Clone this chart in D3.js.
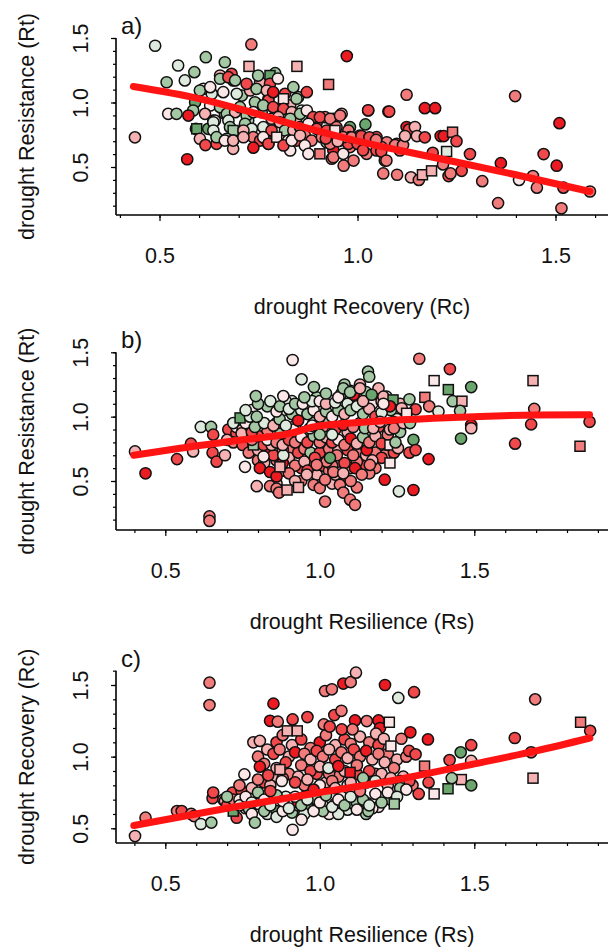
<!DOCTYPE html>
<html><head><meta charset="utf-8">
<script src="https://cdn.jsdelivr.net/npm/d3@7"></script>
<style>body{margin:0;background:#fff;} svg{display:block;font-family:"Liberation Sans",Arial,sans-serif;}</style>
</head><body><svg id="chart" width="608" height="949"></svg>
<script>
// colour classes (red -> white -> green)
const colorKeys = ['R','r','m','p','w','l','g','G'];
const colorValues = ['#ec1b22','#f0484b','#f27b7b','#f6b2b2','#fbe7e7','#dfeadf','#a3c8a3','#6aa56e'];

// panel a: x = Recovery (Rc), y = Resistance (Rt)   [x, y, colour, shape]
const pointsA = [
[0.438,0.73,'p'],[0.489,1.44,'l'],[0.547,1.287,'l'],[0.518,1.157,'g'],[0.564,1.171,'l'],[0.588,1.235,'g'],
[0.617,1.351,'g'],[0.665,1.312,'g'],[0.732,1.45,'m'],[0.726,1.28,'p','s'],[0.847,1.28,'p','s'],[0.927,1.14,'m','s'],
[0.973,1.36,'R'],[0.792,1.227,'g'],[0.779,1.209,'G','s'],
[0.653,1.209,'p'],[0.682,1.222,'r'],[0.686,1.171,'G'],[0.754,1.157,'p'],[0.779,1.145,'r'],[0.799,1.186,'w'],
[0.611,1.106,'w'],[0.632,1.067,'l'],[0.708,1.054,'g'],[0.729,1.093,'p'],[0.745,0.99,'g'],[0.775,1.029,'p'],
[0.817,1.067,'r'],[0.830,0.977,'p'],[0.850,1.041,'g'],[0.809,0.964,'r'],
[0.602,1.093,'g'],[0.628,1.119,'w'],[0.653,1.184,'g'],
[0.674,1.196,'r'],[0.691,1.171,'g'],[0.661,1.080,'w'],[0.695,1.067,'l'],[0.720,1.145,'r'],[0.749,1.209,'g'],
[0.745,1.106,'g'],[0.771,1.093,'p'],[0.775,1.016,'r'],[0.813,1.029,'w','s'],[0.787,1.080,'R'],[0.838,1.119,'g'],
[0.846,1.029,'g'],[0.872,1.080,'r'],[0.590,1.002,'G'],[0.585,0.938,'g'],[0.628,0.977,'w'],[0.615,0.912,'p'],
[0.636,0.860,'w'],[0.665,0.912,'g'],[0.724,0.860,'g'],[0.758,0.925,'g'],[0.783,0.874,'p'],[0.825,0.899,'g'],
[0.846,0.860,'p'],[0.859,0.938,'l'],[0.872,0.860,'g'],[0.884,0.860,'l'],[0.897,0.847,'m'],[0.918,0.886,'m'],
[0.939,0.874,'r'],[0.960,0.912,'p'],[1.027,0.938,'r'],[1.078,0.93,'R'],
[0.653,0.964,'g'],[0.640,0.860,'w'],[0.670,0.912,'g'],[0.691,0.925,'p'],[0.674,0.860,'l'],[0.703,0.964,'g'],
[0.720,0.899,'g'],[0.741,1.002,'g'],[0.737,0.925,'w'],[0.762,0.977,'g'],[0.787,0.964,'r'],[0.813,0.951,'r'],
[0.800,0.886,'p'],[0.834,0.925,'p'],[0.830,0.874,'g'],[0.855,0.912,'g'],[0.872,0.938,'w'],[0.888,0.886,'r'],
[0.905,0.886,'r'],[0.931,0.874,'m'],[0.956,0.899,'m'],[0.981,0.809,'G'],[1.02,0.83,'G'],[0.522,0.912,'w'],
[0.543,0.912,'g'],[0.573,0.899,'R'],[0.592,0.796,'r'],[0.594,0.796,'G','s'],[0.623,0.796,'G'],[0.636,0.847,'l'],
[0.678,0.809,'g'],[0.686,0.783,'g','s'],[0.716,0.835,'g'],[0.733,0.796,'l'],[0.762,0.809,'l'],[0.783,0.783,'r'],
[0.804,0.847,'p'],[0.817,0.783,'g'],[0.838,0.783,'p'],[0.855,0.809,'r'],[0.876,0.835,'w'],[0.897,0.796,'r'],
[0.922,0.783,'r'],[0.947,0.809,'m'],[0.977,0.783,'m'],
[0.636,0.783,'l'],[0.670,0.719,'g'],[0.686,0.705,'w'],[0.712,0.783,'p'],[0.737,0.731,'m'],[0.754,0.705,'r'],
[0.771,0.705,'r'],[0.825,0.705,'w'],[0.846,0.705,'r'],[0.867,0.744,'m'],[0.884,0.705,'m'],[0.910,0.731,'m'],
[0.922,0.692,'g'],[0.943,0.783,'w','s'],[0.956,0.705,'r'],[0.981,0.731,'m'],[1.006,0.744,'r'],[1.027,0.705,'m'],
[1.048,0.731,'r'],[1.074,0.692,'m'],[1.099,0.680,'r'],[0.644,0.680,'r'],[0.686,0.641,'p'],[0.775,0.680,'p'],
[0.830,0.628,'w'],[0.939,0.628,'R'],[0.935,0.564,'m'],[0.981,0.654,'m'],[0.998,0.705,'r'],[1.023,0.602,'m'],
[1.048,0.628,'r'],[1.061,0.654,'m'],[1.069,0.550,'m'],[1.107,0.628,'r'],
[0.602,0.719,'p'],[0.616,0.67,'r'],[0.57,0.56,'R'],
[0.644,0.731,'g'],[0.665,0.705,'w'],[0.686,0.705,'p'],[0.712,0.731,'p'],[0.737,0.65,'R'],[0.762,0.731,'w'],
[0.775,0.680,'r'],[0.796,0.731,'w','s'],[0.813,0.667,'r'],[0.834,0.705,'w'],[0.855,0.744,'p'],[0.867,0.667,'w'],
[0.876,0.602,'w'],[0.905,0.602,'m','s'],[0.931,0.680,'m'],[0.939,0.576,'m'],[0.964,0.602,'w'],[0.977,0.680,'r'],
[0.964,0.731,'m'],[0.965,0.51,'m'],[0.99,0.55,'m'],[0.92,0.72,'r'],[0.95,0.70,'p'],[0.985,0.73,'m'],[1.0,0.68,'r'],
[1.01,0.74,'r'],[1.03,0.73,'r'],[1.047,0.71,'m'],[1.014,0.63,'r'],[1.027,0.94,'r'],[1.08,0.93,'r'],[1.06,0.62,'r'],
[1.065,0.45,'m'],[1.073,0.55,'m'],[1.095,0.67,'m'],[1.115,0.67,'m'],[1.10,0.44,'m'],[1.124,1.06,'m'],[1.124,0.81,'R'],
[1.13,0.79,'r'],[1.145,0.81,'p'],[1.12,0.74,'p'],[1.15,0.74,'p'],[1.135,0.42,'p'],[1.155,0.40,'m'],[1.164,0.44,'p','s'],
[1.187,0.47,'p','s'],[1.17,0.956,'R'],[1.196,0.956,'R'],[1.17,0.73,'r'],[1.19,0.61,'r'],[1.21,0.74,'R'],[1.218,0.74,'R'],
[1.216,0.52,'m'],[1.225,0.62,'l','s'],[1.24,0.77,'m','s'],[1.23,0.43,'r'],[1.235,0.45,'m'],[1.25,0.70,'r'],[1.263,0.47,'r'],
[1.284,0.60,'r'],[1.315,0.39,'m'],[1.355,0.22,'m'],[1.362,0.53,'R'],[1.398,1.05,'m'],[1.408,0.40,'w'],[1.443,0.43,'m'],
[1.453,0.34,'m'],[1.47,0.60,'r'],[1.503,0.51,'R'],[1.51,0.84,'R'],[1.515,0.18,'m'],[1.52,0.34,'r'],[1.587,0.31,'m']
];

// panel b: x = Resilience (Rs), y = Resistance (Rt)
const pointsB = [
[0.402,0.73,'p'],[0.436,0.56,'R'],[0.538,0.67,'r'],[0.583,0.79,'r'],[0.59,0.73,'p'],[0.615,0.92,'l'],[0.648,0.92,'g'],
[0.643,0.225,'m'],[0.643,0.19,'m'],[0.653,0.72,'r'],[0.666,0.65,'r'],[0.655,0.86,'r'],[0.693,0.70,'p'],[0.704,0.90,'r'],
[0.758,0.61,'w'],[0.796,0.46,'p'],[0.73,0.87,'r'],[0.72,0.80,'m'],[0.75,0.78,'r'],[0.70,0.82,'p'],[0.73,0.92,'w'],
[0.80,0.66,'m'],[0.83,0.72,'R'],[0.86,0.66,'m'],[0.88,0.58,'p'],[0.91,0.75,'m'],[0.94,0.60,'r'],[0.97,0.64,'m'],
[0.99,0.55,'p'],[1.01,0.62,'r'],[1.03,0.58,'m'],[1.06,0.65,'m'],[1.08,0.52,'r'],[1.10,0.60,'p'],[1.13,0.68,'m'],
[1.15,0.62,'r'],[1.18,0.60,'m'],[1.21,0.70,'m'],[1.24,0.72,'r'],[0.94,0.50,'m'],[1.04,0.48,'p'],[1.12,0.45,'m'],
[0.86,0.48,'p'],
[0.77,0.72,'m'],[0.80,0.74,'p'],[0.85,0.70,'r'],[0.88,0.74,'m'],[0.90,0.68,'p'],[0.93,0.72,'r'],[0.95,0.75,'m'],
[0.97,0.72,'g'],[1.00,0.72,'r'],[1.03,0.75,'m'],[1.06,0.74,'p'],[1.09,0.74,'r'],[1.12,0.72,'m'],[1.15,0.70,'p'],
[1.18,0.72,'m'],[1.20,0.68,'r'],[0.82,0.64,'p'],[0.88,0.64,'R'],[0.92,0.62,'m'],[0.95,0.65,'p'],[1.04,0.62,'m'],
[1.08,0.64,'r'],[1.12,0.65,'m'],[1.17,0.66,'p'],[0.90,0.56,'m'],[0.96,0.58,'r'],[1.05,0.55,'p'],[1.10,0.50,'m'],
[1.16,0.56,'m'],[0.92,0.50,'p'],[0.98,0.47,'m'],
[0.806,0.60,'R'],[0.839,0.57,'R'],[0.86,0.535,'R'],[0.871,0.61,'p','s'],[0.839,0.46,'m'],[0.86,0.44,'m'],[0.868,0.41,'m'],
[0.894,0.43,'p','s'],[0.931,0.45,'p','s'],[0.958,0.55,'p'],[1.0,0.445,'m'],[1.017,0.51,'m'],[1.017,0.34,'m'],[1.065,0.47,'m'],
[1.076,0.41,'m'],[1.098,0.355,'m'],[1.114,0.315,'m'],[1.044,0.57,'m'],[1.076,0.56,'p'],[1.114,0.60,'R'],[1.136,0.55,'m'],
[1.162,0.625,'m'],[1.21,0.51,'R'],[1.256,0.42,'l'],[1.152,0.74,'R'],[1.108,0.70,'m'],[1.055,0.70,'m'],[1.022,0.65,'m'],
[0.984,0.68,'r'],[0.99,0.625,'m'],[0.882,0.70,'l'],[0.818,0.69,'w'],[0.818,0.78,'r'],[0.844,0.78,'p'],[0.785,0.78,'g','s'],
[0.72,0.95,'l'],[0.75,0.90,'p'],[0.77,0.97,'g'],[0.80,0.90,'w'],[0.83,0.88,'m'],[0.86,0.95,'w'],[0.88,0.90,'r'],
[0.92,0.93,'p'],[0.95,0.88,'m'],[0.98,0.95,'l'],[1.01,0.92,'m'],[1.03,0.96,'g'],[1.05,0.90,'r'],[1.09,0.88,'p'],
[1.13,0.95,'m'],[1.16,0.87,'l'],[1.19,0.92,'r'],[1.22,0.86,'m'],[1.26,0.88,'g'],
[0.78,0.82,'m'],[0.80,0.85,'r'],[0.83,0.82,'w'],[0.86,0.80,'m'],[0.88,0.78,'p'],[0.90,0.82,'r'],[0.92,0.80,'m'],
[0.94,0.84,'w'],[0.96,0.80,'r'],[0.98,0.85,'g'],[1.00,0.80,'m'],[1.02,0.84,'p'],[1.04,0.80,'r'],[1.06,0.82,'w'],
[1.08,0.78,'m'],[1.10,0.83,'R'],[1.12,0.79,'p'],[1.14,0.84,'g'],[1.16,0.80,'m'],[1.18,0.85,'p'],[1.20,0.79,'r'],
[1.033,0.68,'G'],[1.227,0.78,'w','s'],[1.227,0.64,'w','s'],[1.253,0.755,'p'],[1.245,0.80,'g'],
[0.747,0.87,'p'],[0.78,0.88,'r'],[0.871,0.87,'g','s'],[0.914,0.90,'w'],[1.0,0.86,'g'],[1.04,0.86,'l'],
[0.78,1.05,'w'],[0.83,1.08,'g'],[0.88,1.05,'w'],[0.91,1.12,'l'],[0.94,1.02,'g'],[0.97,1.08,'w'],[0.99,1.15,'g'],
[1.03,1.13,'w'],[1.07,1.18,'g'],[1.09,1.10,'l'],[1.12,1.15,'g'],[1.15,1.19,'g'],[1.17,1.10,'w'],[1.20,1.12,'p'],
[1.23,1.05,'g'],[1.26,1.10,'p'],[1.28,1.02,'l'],[1.25,0.98,'w'],[1.13,1.25,'p'],[1.11,1.17,'R'],
[0.76,0.95,'w'],[0.79,0.92,'g'],[0.82,0.95,'l'],[0.85,0.93,'p'],[0.87,0.98,'g'],[0.89,0.93,'l'],[0.91,1.02,'g'],
[0.94,1.05,'l'],[0.96,1.02,'g'],[0.98,1.05,'w'],[1.0,1.0,'p'],[1.02,1.04,'g'],[1.04,1.00,'w'],[1.06,1.05,'g'],
[1.08,1.02,'p'],[1.10,1.05,'g'],[1.12,1.08,'l'],[1.14,1.02,'g'],[1.16,1.06,'p'],[1.18,1.00,'r'],[1.20,1.03,'l'],
[0.968,0.91,'l'],[0.975,0.93,'w'],[1.076,0.935,'R'],[1.108,0.92,'m'],[1.146,0.91,'g'],[1.173,0.91,'p'],[1.195,0.96,'p'],
[1.238,0.96,'l'],[1.227,0.90,'p'],[1.24,0.91,'m'],[1.27,0.95,'p'],[1.292,0.95,'g'],
[0.742,0.99,'G','s'],[0.774,1.0,'l'],[0.796,1.0,'g'],[0.76,1.05,'l'],[0.80,1.10,'g'],[0.84,1.12,'l'],[0.86,1.04,'w'],
[0.89,1.12,'l'],[0.871,1.08,'g'],[0.90,1.06,'l'],[0.93,0.97,'R'],[0.92,1.10,'g'],[0.945,1.10,'w'],[0.975,1.12,'l'],
[1.0,1.12,'w'],[1.02,1.10,'p'],[1.05,1.11,'l'],[0.95,1.15,'g'],[1.02,1.18,'g'],[1.06,1.15,'w'],[1.10,1.20,'l'],
[1.14,1.12,'p'],[1.19,1.22,'p'],[1.08,1.25,'g'],[0.912,1.44,'w'],[0.941,1.29,'l'],[0.981,1.23,'g'],[0.793,1.16,'g'],
[0.882,1.16,'w'],[1.156,1.35,'g'],[1.16,1.31,'g'],[1.076,1.22,'g'],[1.098,1.19,'g'],[1.13,1.22,'p'],[1.168,1.17,'G'],
[1.216,1.155,'l'],[1.206,1.155,'p'],[1.237,1.13,'G','s'],[1.227,1.08,'R'],[1.206,1.10,'w'],[1.265,1.065,'p'],
[1.29,1.135,'g'],[1.31,1.057,'r'],[1.281,1.026,'w','s'],
[1.322,1.45,'m'],[1.421,1.37,'r'],[1.37,1.28,'w','s'],[1.69,1.28,'p','s'],[1.416,1.21,'G','s'],[1.49,1.23,'G'],
[1.34,1.15,'m','s'],[1.43,1.12,'g'],[1.46,1.12,'p','s'],[1.354,1.08,'m'],[1.384,1.04,'l'],[1.454,1.045,'g'],
[1.694,1.06,'m'],[1.49,0.935,'R'],[1.49,0.91,'p'],[1.684,0.94,'r'],[1.873,0.96,'r'],[1.457,0.83,'G'],[1.632,0.79,'r'],
[1.842,0.77,'m','s'],[1.303,0.82,'G'],[1.352,0.67,'R'],[1.29,0.72,'r'],[1.31,0.74,'r'],[1.303,0.43,'R']
];

// panel c: x = Resilience (Rs), y = Recovery (Rc)
const pointsC = [
[0.402,0.446,'p'],[0.436,0.574,'m'],[0.538,0.62,'m'],[0.553,0.62,'r'],[0.584,0.60,'m'],[0.593,0.585,'m'],
[0.615,0.53,'l'],[0.649,0.54,'g'],[0.643,1.516,'m'],[0.643,1.36,'m'],[0.653,0.71,'r'],[0.655,0.75,'r'],
[0.688,0.70,'m'],[0.693,0.69,'p'],[0.718,0.75,'r'],[0.747,0.76,'r'],[0.731,0.574,'r'],[0.72,0.62,'G','s'],
[0.70,0.66,'r'],[0.76,0.64,'p'],[0.72,0.70,'m'],
[0.80,1.00,'m'],[0.83,1.05,'p'],[0.86,1.10,'r'],[0.88,1.15,'m'],[0.91,1.08,'p'],[0.94,1.12,'r'],[0.97,1.06,'m'],
[1.00,1.10,'R'],[1.02,1.15,'m'],[1.05,1.08,'p'],[1.08,1.12,'r'],[1.10,1.09,'m'],[1.13,1.14,'p'],[1.16,1.10,'m'],
[1.19,1.08,'r'],[1.22,1.02,'m'],[1.25,0.98,'p'],[1.28,1.00,'m'],
[0.85,1.02,'r'],[0.87,1.05,'m'],[0.90,1.00,'p'],[0.92,1.03,'R'],[0.95,1.02,'m'],[0.97,0.98,'p'],[0.99,1.04,'r'],
[1.01,1.00,'m'],[1.03,1.05,'p'],[1.05,0.98,'r'],[1.07,1.03,'m'],[1.09,0.99,'p'],[1.11,1.05,'r'],[1.13,1.00,'m'],
[1.15,1.04,'R'],[1.17,0.98,'p'],[1.19,1.02,'m'],[1.21,0.96,'p'],
[0.74,0.80,'m'],[0.78,0.78,'p'],[0.82,0.82,'r'],[0.86,0.86,'p'],[0.90,0.88,'m'],[0.93,0.86,'p'],[0.95,0.80,'m'],
[0.99,0.88,'r'],[1.02,0.82,'p'],[1.06,0.86,'m'],[1.09,0.80,'l'],[1.12,0.88,'r'],[1.15,0.82,'p'],[1.18,0.88,'m'],
[1.21,0.83,'w'],[1.24,0.78,'p'],[1.27,0.81,'m'],
[0.82,0.95,'m'],[0.86,0.92,'p'],[0.89,0.96,'r'],[0.94,0.94,'m'],[0.97,0.90,'r'],[1.00,0.93,'p'],[1.03,0.88,'m'],
[1.08,0.90,'p'],[1.12,0.94,'m'],[1.16,0.90,'r'],[1.20,0.88,'p'],[1.24,0.92,'m'],[1.27,0.86,'p'],
[0.80,0.84,'m'],[0.84,0.80,'p'],[0.88,0.85,'m'],[0.92,0.82,'r'],[0.96,0.84,'p'],[1.00,0.80,'w'],[1.04,0.83,'m'],
[1.10,0.82,'p'],[1.14,0.85,'g'],[1.18,0.83,'l'],[1.22,0.80,'p'],[1.26,0.83,'l'],[1.30,0.80,'m'],
[0.756,0.876,'w'],[0.806,0.93,'R'],[0.833,0.87,'r'],[0.871,0.91,'p','s'],[0.877,0.83,'w'],[1.028,0.92,'l'],[1.06,0.934,'R'],
[1.098,0.89,'R','s'],[1.23,0.85,'p'],[1.29,0.83,'r'],
[0.70,0.72,'g'],[0.74,0.70,'w'],[0.77,0.64,'g'],[0.80,0.67,'w'],[0.83,0.60,'l'],[0.85,0.69,'g'],[0.87,0.65,'w'],
[0.89,0.72,'l'],[0.91,0.61,'g'],[0.93,0.66,'w'],[0.95,0.72,'g'],[0.97,0.66,'w'],[0.99,0.70,'g'],[1.01,0.66,'l'],
[1.03,0.60,'w'],[1.05,0.67,'g'],[1.07,0.72,'w'],[1.09,0.63,'l'],[1.11,0.67,'g'],[1.13,0.72,'w'],[1.15,0.68,'l'],
[1.19,0.65,'w'],[1.21,0.72,'l'],[1.23,0.70,'g'],[1.26,0.78,'g'],[0.86,0.62,'G'],[0.96,0.64,'G','s'],
[0.74,0.66,'l'],[0.78,0.60,'w'],[0.82,0.62,'g'],[0.86,0.58,'l'],[0.88,0.62,'w'],[0.95,0.60,'l'],[1.01,0.62,'g'],
[1.06,0.60,'l'],[1.15,0.60,'g'],[1.17,0.64,'w'],[0.912,0.49,'w'],[0.79,0.54,'g'],[0.941,0.56,'w'],[1.157,0.62,'g'],
[1.12,0.68,'g'],[0.93,0.68,'R'],
[0.76,0.72,'w'],[0.78,0.68,'l'],[0.80,0.75,'g'],[0.82,0.70,'w'],[0.84,0.66,'l'],[0.86,0.73,'g'],[0.88,0.69,'w'],
[0.90,0.64,'l'],[0.92,0.72,'w'],[0.94,0.66,'g'],[0.96,0.70,'l'],[0.98,0.62,'w'],[1.00,0.68,'w'],[1.02,0.73,'g'],
[1.04,0.65,'l'],[1.06,0.70,'w'],[1.08,0.66,'g'],[1.10,0.72,'l'],[1.12,0.63,'w'],[1.14,0.70,'g'],[1.16,0.66,'l'],
[1.18,0.74,'w'],[1.20,0.68,'g'],[1.22,0.75,'w'],[1.25,0.72,'l'],[1.28,0.77,'w'],[1.241,0.67,'g','s'],
[0.84,0.76,'r'],[0.98,0.77,'R'],[1.05,0.78,'p'],[1.13,0.76,'m'],
[0.785,1.10,'p'],[0.806,1.11,'p'],[0.85,1.37,'R'],[0.839,1.25,'R'],[0.864,1.244,'m'],[0.912,1.26,'r'],[0.96,1.276,'r'],
[0.895,1.18,'p','s'],[0.927,1.18,'p','s'],[1.017,1.458,'m'],[1.039,1.47,'m'],[1.076,1.51,'R'],[1.10,1.52,'m'],
[1.117,1.586,'p'],[1.211,1.50,'R'],[1.254,1.41,'l'],[1.305,1.45,'r'],[1.013,1.225,'m'],[1.032,1.21,'r'],[1.047,1.29,'r'],
[1.07,1.32,'m'],[1.114,1.253,'R'],[1.152,1.248,'m'],[1.19,1.253,'R'],[1.195,1.20,'R'],[1.225,1.24,'w','s'],
[1.071,1.19,'r'],[1.106,1.19,'m'],[1.182,1.16,'p'],[1.207,1.125,'p'],[1.23,1.074,'w','s'],[1.264,1.125,'m'],
[1.293,1.17,'R'],[1.35,1.12,'R'],[1.289,1.04,'r'],[1.31,1.016,'r'],[1.49,1.08,'r'],[1.42,0.976,'r'],[1.456,1.03,'G'],
[1.49,0.97,'p'],[1.339,0.934,'m','s'],[1.458,0.84,'p','s'],[1.427,0.85,'g'],[1.49,0.80,'G'],[1.415,0.776,'G','s'],
[1.37,0.74,'w','s'],[1.32,0.74,'r'],[1.352,0.82,'r'],[1.631,1.13,'r'],[1.697,1.40,'m'],[1.684,1.03,'r'],
[1.69,0.85,'p','s'],[1.844,1.24,'m','s'],[1.875,1.18,'r']
];

// fitted smooth lines
const lineAx = [0.434,0.6,0.72,0.85,1.0,1.2,1.4,1.587];
const lineAy = [1.124,1.03,0.935,0.82,0.70,0.57,0.44,0.31];
const lineBx = [0.398,0.548,0.75,0.904,0.98,1.1,1.26,1.5,1.7,1.873];
const lineBy = [0.70,0.755,0.82,0.87,0.92,0.95,0.975,1.0,1.013,1.015];
const lineCx = [0.398,0.7,1.0,1.2,1.5,1.7,1.874];
const lineCy = [0.52,0.64,0.75,0.82,0.95,1.04,1.13];

const majorTicks = [0.5,1.0,1.5];
const panelLabels = ['a)','b)','c)'];
const xTitles = ['drought Recovery (Rc)','drought Resilience (Rs)','drought Resilience (Rs)'];
const yTitles = ['drought Resistance (Rt)','drought Resistance (Rt)','drought Recovery (Rc)'];

// layout (pixels)
const layout = [
 {x05:159.5,x15:555.5,y05:167,y15:38,base:215,yTop:1.5,yMinLo:0.2,xMinHi:1.6},
 {x05:165.3,x15:474.3,y05:481,y15:352.3,base:530,yTop:1.5,yMinLo:0.2,xMinHi:1.9},
 {x05:165.3,x15:474.3,y05:828.3,y15:685,base:843,yTop:1.6,yMinLo:0.5,xMinHi:1.9}
];
const plotLeft = 116, plotRight = 608;
const colorScale = d3.scaleOrdinal().domain(colorKeys).range(colorValues);
const svg = d3.select('#chart');
const FONT = '"Liberation Sans",Arial,sans-serif';

const panelsData = [
 {pts:pointsA, lx:lineAx, ly:lineAy},
 {pts:pointsB, lx:lineBx, ly:lineBy},
 {pts:pointsC, lx:lineCx, ly:lineCy}
];

panelsData.forEach((pd, i) => {
  const L = layout[i];
  const x = d3.scaleLinear().domain([0.5,1.5]).range([L.x05, L.x15]);
  const y = d3.scaleLinear().domain([0.5,1.5]).range([L.y05, L.y15]);
  const g = svg.append('g');

  // points
  const pg = g.append('g');
  pd.pts.forEach(p => {
    const cx = x(p[0]), cy = y(p[1]);
    if (p[3] === 's') {
      pg.append('rect').attr('x', cx-5).attr('y', cy-5).attr('width', 10).attr('height', 10)
        .attr('fill', colorScale(p[2])).attr('stroke', '#111').attr('stroke-width', 1.5);
    } else {
      pg.append('circle').attr('cx', cx).attr('cy', cy).attr('r', 5.6)
        .attr('fill', colorScale(p[2])).attr('stroke', '#111').attr('stroke-width', 1.5);
    }
  });

  // smooth line
  const lineData = pd.lx.map((v, k) => [v, pd.ly[k]]);
  g.append('path').datum(lineData)
    .attr('d', d3.line().x(d => x(d[0])).y(d => y(d[1])).curve(d3.curveMonotoneX))
    .attr('fill', 'none').attr('stroke', '#ff1414').attr('stroke-width', 7).attr('stroke-linecap', 'round');

  // axes lines (L-shaped box)
  g.append('line').attr('x1', plotLeft).attr('x2', plotRight).attr('y1', L.base).attr('y2', L.base)
    .attr('stroke', '#000').attr('stroke-width', 1.6);
  g.append('line').attr('x1', plotLeft).attr('x2', plotLeft).attr('y1', L.base).attr('y2', y(L.yTop))
    .attr('stroke', '#000').attr('stroke-width', 1.6);

  // x ticks
  const xMinor = d3.range(4, Math.round(L.xMinHi*10)+1).map(v => v/10);
  const xAxisMinor = d3.axisBottom(x).tickValues(xMinor).tickSize(3).tickFormat('');
  const xAxisMajor = d3.axisBottom(x).tickValues(majorTicks).tickSize(6).tickFormat(d3.format('.1f'));
  [xAxisMinor, xAxisMajor].forEach(ax => {
    const a = g.append('g').attr('transform', `translate(0,${L.base})`).call(ax);
    a.select('.domain').remove();
    a.selectAll('line').attr('stroke', '#000').attr('stroke-width', 1.2);
    a.selectAll('text').attr('y', 48).attr('dy', null).attr('fill', '#111')
      .style('font-size', '21.5px').style('font-family', FONT);
  });

  // y ticks
  const yMinor = d3.range(Math.round(L.yMinLo*10), Math.round(L.yTop*10)+1).map(v => v/10);
  const yAxisMinor = d3.axisLeft(y).tickValues(yMinor).tickSize(3).tickFormat('');
  const yAxisMajor = d3.axisLeft(y).tickValues(majorTicks).tickSize(5).tickFormat(d3.format('.1f'));
  [yAxisMinor, yAxisMajor].forEach(ax => {
    const a = g.append('g').attr('transform', `translate(${plotLeft},0)`).call(ax);
    a.select('.domain').remove();
    a.selectAll('line').attr('stroke', '#000').attr('stroke-width', 1.2);
    a.selectAll('text').attr('x', null).attr('dy', null).attr('text-anchor', 'middle')
      .attr('transform', 'translate(-28,0) rotate(-90)').attr('fill', '#111')
      .style('font-size', '21.5px').style('font-family', FONT);
  });

  // panel label
  g.append('text').attr('x', 121).attr('y', y(L.yTop) - 4).text(panelLabels[i])
    .style('font-size', '24px').attr('fill', '#111');

  // axis titles
  g.append('text').attr('x', (plotLeft+plotRight)/2).attr('y', L.base + 99).attr('text-anchor', 'middle')
    .text(xTitles[i]).style('font-size', '21.5px').attr('fill', '#111');
  g.append('text').attr('transform', `translate(34,${(L.base + y(L.yTop))/2}) rotate(-90)`)
    .attr('text-anchor', 'middle').text(yTitles[i]).style('font-size', '21.5px').attr('fill', '#111');
});
</script>
</body></html>
